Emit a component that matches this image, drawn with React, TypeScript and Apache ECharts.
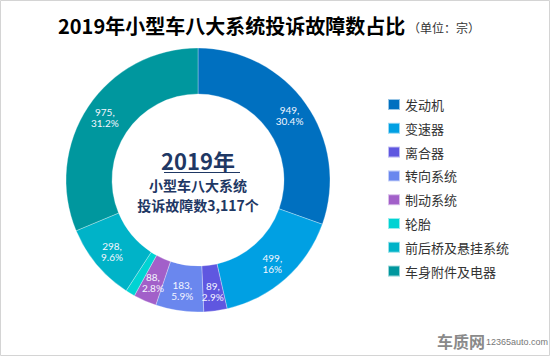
import React, { useEffect, useRef } from "react";
import * as echarts from "echarts";

const categories = ["发动机", "变速器", "离合器", "转向系统", "制动系统", "轮胎", "前后桥及悬挂系统", "车身附件及电器"];
const values = [949, 499, 89, 183, 88, 36, 298, 975];
const pctLabels = ["30.4%", "16%", "2.9%", "5.9%", "2.8%", "1.2%", "9.6%", "31.2%"];
const colors = ["#0070C0", "#00A0E3", "#5F57E0", "#6A87EE", "#A260C9", "#00D3D3", "#00B3C8", "#00979E"];
const titleText = "2019年小型车八大系统投诉故障数占比";
const unitText = "（单位：宗）";
const centerLines = ["2019年", "小型车八大系统", "投诉故障数3,117个"];

export default function App() {
  const ref = useRef<HTMLDivElement>(null);
  useEffect(() => {
    if (!ref.current) return;
    const chart = echarts.init(ref.current, null, { renderer: "svg" });
    const cx = 198;
    const cy = 180;
    chart.setOption({
      animation: false,
      color: colors,
      legend: {
        orient: "vertical",
        left: 382,
        top: 93,
        itemWidth: 12,
        itemHeight: 11,
        itemGap: 10.8,
        icon: "rect",
        data: categories,
        textStyle: { fontSize: 13, color: "#333", fontFamily: "Noto Sans CJK SC", lineHeight: 13 },
        selectedMode: false,
      },
      series: [
        {
          type: "pie",
          center: [cx, cy],
          radius: [86, 132],
          startAngle: 90,
          clockwise: true,
          avoidLabelOverlap: false,
          itemStyle: { borderColor: "rgba(255,255,255,0.6)", borderWidth: 0.5 },
          label: {
            show: true,
            position: "inside",
            color: "#f4f6ff",
            fontSize: 10,
            lineHeight: 11,
            fontFamily: "Lato",
            formatter: (p: any) => values[p.dataIndex] + ",\n" + pctLabels[p.dataIndex],
          },
          labelLine: { show: false },
          emphasis: { disabled: true },
          data: categories.map((c, i) => ({ name: c, value: values[i] })),
        },
      ],
      graphic: [
        {
          type: "rect",
          shape: { x: 0.5, y: 0.5, width: 549, height: 355 },
          style: { fill: "none", stroke: "#d4d4d4", lineWidth: 1 },
          silent: true,
        },
        {
          type: "text",
          x: 58,
          y: 25,
          style: {
            text: titleText,
            fontSize: 20,
            fontWeight: "bold",
            fontFamily: "Noto Sans CJK SC",
            fill: "#000",
            verticalAlign: "middle",
          },
        },
        {
          type: "text",
          x: 408,
          y: 27,
          style: {
            text: unitText,
            fontSize: 12,
            fontFamily: "Noto Sans CJK SC",
            fill: "#333",
            verticalAlign: "middle",
          },
        },
        {
          type: "text",
          x: cx,
          y: 160,
          style: {
            text: centerLines[0],
            fontSize: 22,
            lineHeight: 24,
            fontWeight: "bold",
            fontFamily: "Noto Sans CJK SC",
            fill: "#1F3864",
            align: "center",
            verticalAlign: "middle",
          },
        },
        {
          type: "line",
          shape: { x1: 164, y1: 172.5, x2: 240, y2: 172.5 },
          style: { stroke: "#1F3864", lineWidth: 1.2 },
        },
        {
          type: "text",
          x: cx,
          y: 195,
          style: {
            text: centerLines[1] + "\n" + centerLines[2],
            fontSize: 14,
            lineHeight: 20,
            fontWeight: "bold",
            fontFamily: "Noto Sans CJK SC",
            fill: "#1F3864",
            align: "center",
            verticalAlign: "middle",
          },
        },
        {
          type: "text",
          x: 437,
          y: 341,
          style: {
            text: "车质网",
            fontSize: 16,
            fontWeight: "bold",
            fontFamily: "Noto Sans CJK SC",
            fill: "#8a8a8a",
            verticalAlign: "middle",
          },
        },
        {
          type: "text",
          x: 486,
          y: 342,
          style: {
            text: "12365auto.com",
            fontSize: 9,
            fontFamily: "Liberation Sans",
            fill: "#777",
            verticalAlign: "middle",
          },
        },
      ],
    });
    return () => chart.dispose();
  }, []);
  return (
    <div style={{ position: "fixed", left: 0, top: 0, width: 550, height: 356, background: "#fff" }}>
      <div ref={ref} style={{ width: 550, height: 356 }} />
    </div>
  );
}
